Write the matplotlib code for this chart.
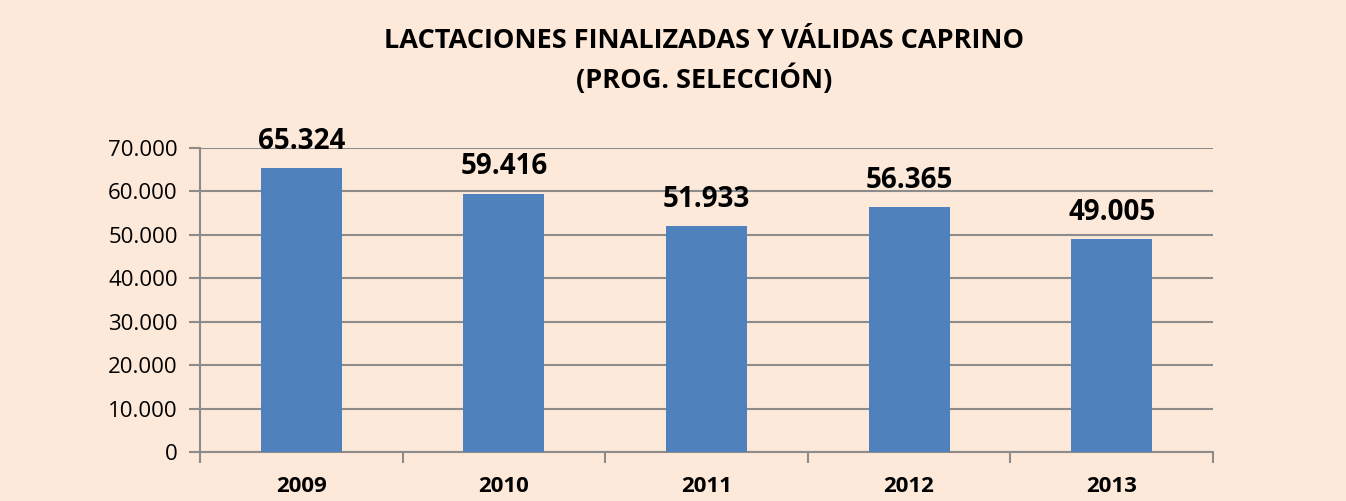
import matplotlib
matplotlib.use("Agg")
import matplotlib.pyplot as plt
from matplotlib.ticker import FuncFormatter, FixedLocator
import numpy as np

years = ["2009", "2010", "2011", "2012", "2013"]
values = [65324, 59416, 51933, 56365, 49005]
title = "LACTACIONES FINALIZADAS Y VÁLIDAS CAPRINO\n(PROG. SELECCIÓN)"

bg = "#FDE9D9"
bar_color = "#4F81BD"
grid_color = "#8C8C8C"
font = ["Open Sans", "DejaVu Sans"]
plt.rcParams["font.family"] = font

def fmt(v):
    return f"{int(v):,}".replace(",", ".")

fig = plt.figure(figsize=(13.46, 5.01), dpi=100, facecolor=bg)
ax = fig.add_axes([200/1346, 1-452/501, (1213-200)/1346, (452-148)/501])
ax.set_facecolor(bg)

x = np.arange(len(years))
ax.bar(x, values, width=0.4, color=bar_color, zorder=3)
ax.set_xlim(-0.5, len(years)-0.5)
ax.set_ylim(0, 70000)
ax.set_yticks(np.arange(0, 70001, 10000))
ax.yaxis.set_major_formatter(FuncFormatter(lambda v, p: fmt(v)))
ax.yaxis.grid(True, color=grid_color, linewidth=1.5, zorder=0)
ax.set_axisbelow(True)

for s in ["top", "right"]:
    ax.spines[s].set_visible(False)
for s in ["left", "bottom"]:
    ax.spines[s].set_color(grid_color)
    ax.spines[s].set_linewidth(1.5)

ax.set_xticks(x)
ax.set_xticklabels(years, fontsize=16, fontweight="bold")
ax.tick_params(axis="x", which="major", length=0, pad=17)
ax.xaxis.set_minor_locator(FixedLocator(np.arange(-0.5, len(years), 1.0)))
ax.tick_params(axis="x", which="minor", length=8, width=1.5, color=grid_color, direction="out")
ax.tick_params(axis="y", length=8, width=1.5, color=grid_color, labelsize=16, pad=8)

for xi, v in zip(x, values):
    ax.annotate(fmt(v), (xi, v), xytext=(0, 9), textcoords="offset points",
                ha="center", va="bottom", fontsize=20, fontweight="bold")

fig.text(704/1346, 0.878, title, ha="center", va="center", fontsize=19.5, fontweight="bold", linespacing=1.4)

fig.savefig("out.png", dpi=100, facecolor=bg)
